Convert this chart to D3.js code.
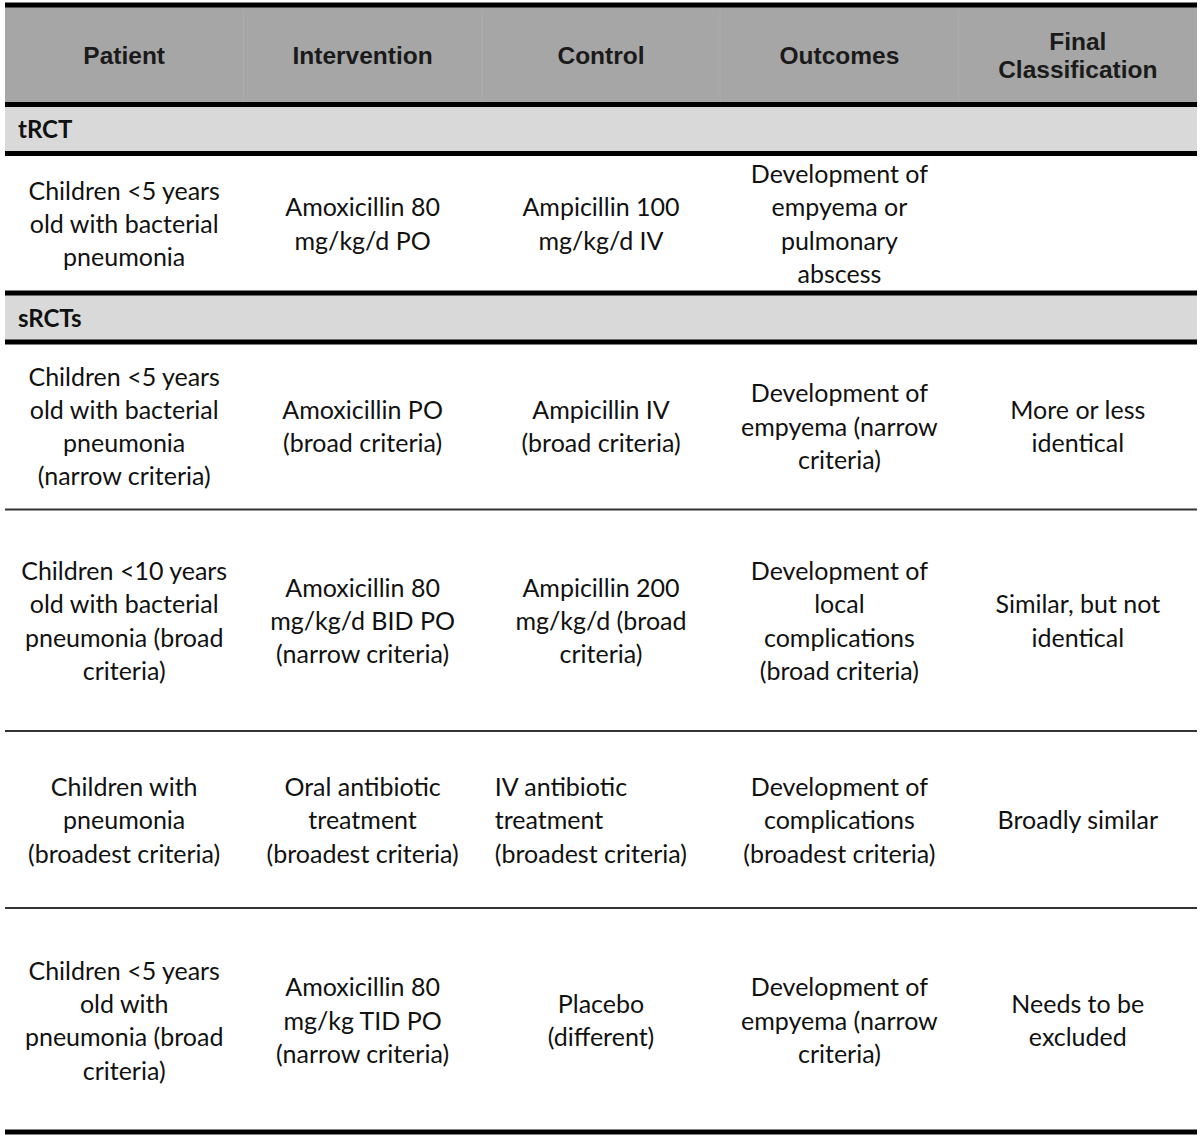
<!DOCTYPE html>
<html>
<head>
<meta charset="utf-8">
<script src="https://cdn.jsdelivr.net/npm/d3@7"></script>
<style>
  body { margin: 0; background: #fff; }
</style>
</head>
<body>
<script>
// table content
let columns = ["Patient", "Intervention", "Control", "Outcomes", "Final\nClassification"];
let sections = ["tRCT", "sRCTs"];

let patient = [
  "Children <5 years\nold with bacterial\npneumonia",
  "Children <5 years\nold with bacterial\npneumonia\n(narrow criteria)",
  "Children <10 years\nold with bacterial\npneumonia (broad\ncriteria)",
  "Children with\npneumonia\n(broadest criteria)",
  "Children <5 years\nold with\npneumonia (broad\ncriteria)"
];
let intervention = [
  "Amoxicillin 80\nmg/kg/d PO",
  "Amoxicillin PO\n(broad criteria)",
  "Amoxicillin 80\nmg/kg/d BID PO\n(narrow criteria)",
  "Oral antibiotic\ntreatment\n(broadest criteria)",
  "Amoxicillin 80\nmg/kg TID PO\n(narrow criteria)"
];
let control = [
  "Ampicillin 100\nmg/kg/d IV",
  "Ampicillin IV\n(broad criteria)",
  "Ampicillin 200\nmg/kg/d (broad\ncriteria)",
  "IV antibiotic\ntreatment\n(broadest criteria)",
  "Placebo\n(different)"
];
let outcomes = [
  "Development of\nempyema or\npulmonary\nabscess",
  "Development of\nempyema (narrow\ncriteria)",
  "Development of\nlocal\ncomplications\n(broad criteria)",
  "Development of\ncomplications\n(broadest criteria)",
  "Development of\nempyema (narrow\ncriteria)"
];
let classification = [
  "",
  "More or less\nidentical",
  "Similar, but not\nidentical",
  "Broadly similar",
  "Needs to be\nexcluded"
];
let section = [0, 1, 1, 1, 1];
let leftAligned = [[3, 2]]; // [row, col] cells set flush left

// layout
let width = 1200, height = 1138;
let x0 = 5, x1 = 1197;
let headTop = 5, headBottom = 104.5;
let bandH = 49;
let rowHeights = [139.5, 167.5, 221.5, 177, 224];
let lineH = 33.3;

let svg = d3.select("body")
  .append("svg")
  .attr("width", width)
  .attr("height", height)
  .style("font-family", "Lato, 'Noto Sans', sans-serif");

let xScale = d3.scaleBand()
  .domain(d3.range(columns.length))
  .range([x0, x1]);

// compute row tops
let blocks = [];
let y = headBottom;
let cells = [patient, intervention, control, outcomes, classification];
for (let i = 0; i < patient.length; i++) {
  if (i === 0 || section[i] !== section[i - 1]) {
    blocks.push({ type: "band", label: sections[section[i]], y0: y, y1: y + bandH });
    y += bandH;
  }
  blocks.push({ type: "row", index: i, y0: y, y1: y + rowHeights[i] });
  y += rowHeights[i];
}

// header
svg.append("rect")
  .attr("x", x0).attr("y", headTop)
  .attr("width", x1 - x0).attr("height", headBottom - headTop)
  .attr("fill", "#a6a6a6");

svg.selectAll(".hsep")
  .data(d3.range(1, columns.length))
  .join("line")
  .attr("x1", d => xScale(d)).attr("x2", d => xScale(d))
  .attr("y1", headTop + 4).attr("y2", headBottom - 2)
  .attr("stroke", "#adadad").attr("stroke-width", 1);

columns.forEach((c, j) => {
  let lines = c.split("\n");
  let t = svg.append("text")
    .attr("x", xScale(j) + xScale.bandwidth() / 2)
    .attr("text-anchor", "middle")
    .style("font-family", "'Liberation Sans', Arial, sans-serif")
    .style("font-weight", "bold")
    .style("font-size", "24.5px")
    .attr("fill", "#1a1a1a");
  let cy = (headTop + headBottom) / 2 + 1;
  lines.forEach((l, k) => {
    t.append("tspan")
      .attr("x", xScale(j) + xScale.bandwidth() / 2)
      .attr("y", cy + (k - (lines.length - 1) / 2) * 28)
      .attr("dy", "0.35em")
      .text(l);
  });
});

// bands and rows
blocks.forEach(b => {
  if (b.type === "band") {
    svg.append("rect")
      .attr("x", x0).attr("y", b.y0)
      .attr("width", x1 - x0).attr("height", b.y1 - b.y0)
      .attr("fill", "#d9d9d9");
    svg.append("text")
      .attr("x", x0 + 13)
      .attr("y", (b.y0 + b.y1) / 2 + 1)
      .attr("dy", "0.35em")
      .style("font-weight", "bold")
      .style("font-size", "24px")
      .attr("fill", "#111")
      .text(b.label);
  } else {
    let i = b.index;
    cells.forEach((col, j) => {
      let lines = col[i] ? col[i].split("\n") : [];
      let left = leftAligned.some(p => p[0] === i && p[1] === j);
      let tx = left ? xScale(j) + 13 : xScale(j) + xScale.bandwidth() / 2;
      let cy = (b.y0 + b.y1) / 2 + 1;
      let t = svg.append("text")
        .attr("text-anchor", left ? "start" : "middle")
        .style("font-size", "25px")
        .attr("fill", "#111");
      lines.forEach((l, k) => {
        t.append("tspan")
          .attr("x", tx)
          .attr("y", cy + (k - (lines.length - 1) / 2) * lineH)
          .attr("dy", "0.35em")
          .text(l);
      });
    });
  }
});

// rules
let thick = [headTop, headBottom];
let thin = [];
blocks.forEach((b, k) => {
  if (b.type === "band") { thick.push(b.y0); thick.push(b.y1); }
  else {
    let next = blocks[k + 1];
    if (!next) thick.push(b.y1);
    else if (next.type === "row") thin.push(b.y1);
  }
});
thick = Array.from(new Set(thick));

svg.selectAll(".thick")
  .data(thick)
  .join("line")
  .attr("x1", x0).attr("x2", x1)
  .attr("y1", d => d).attr("y2", d => d)
  .attr("stroke", "#000").attr("stroke-width", 5);

svg.selectAll(".thin")
  .data(thin)
  .join("line")
  .attr("x1", x0).attr("x2", x1)
  .attr("y1", d => d).attr("y2", d => d)
  .attr("stroke", "#333").attr("stroke-width", 2);
</script>
</body>
</html>
